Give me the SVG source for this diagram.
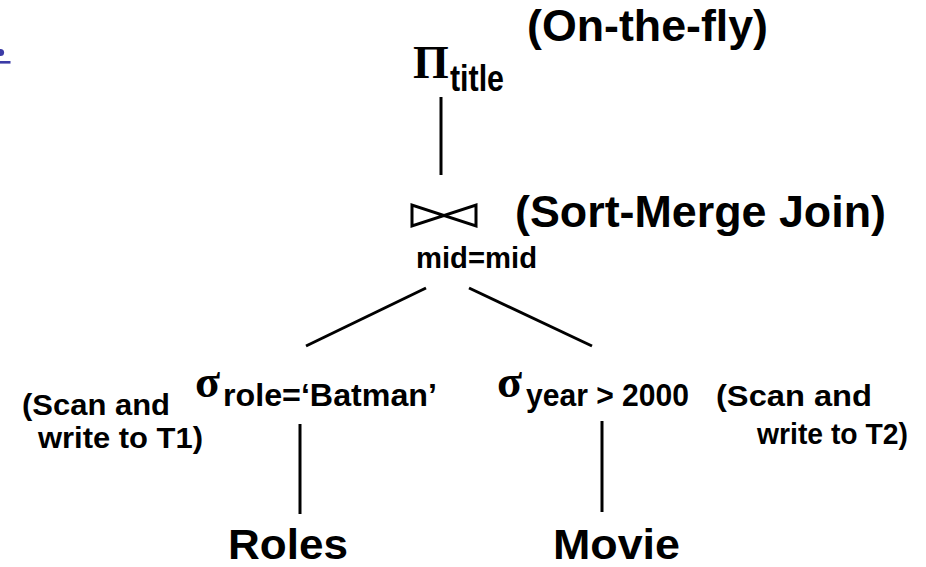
<svg xmlns="http://www.w3.org/2000/svg" width="926" height="567" viewBox="0 0 926 567">
  <style>
    .lbl { font-family: "Liberation Sans", Arial, sans-serif; font-weight: bold; fill: #000; }
    .greek { font-family: "Liberation Serif", "Times New Roman", serif; font-weight: bold; fill: #000; }
    .edge { stroke: #000; stroke-width: 3; fill: none; stroke-linecap: butt; }
  </style>
  <rect width="926" height="567" fill="#fff"/>

  <!-- clipped hyperlink fragment at the left edge -->
  <g id="link-fragment" fill="#3b3ba6">
    <circle cx="0.5" cy="52.5" r="3.6"/>
    <rect x="0" y="61" width="10.5" height="2.6"/>
  </g>

  <!-- connectors -->
  <g id="connectors" class="edge">
    <line x1="441" y1="97" x2="441" y2="175"/>
    <line x1="306" y1="346" x2="426" y2="288"/>
    <line x1="469" y1="288" x2="592" y2="346"/>
    <line x1="300" y1="424" x2="300" y2="514"/>
    <line x1="602" y1="421" x2="602" y2="512"/>
  </g>

  <!-- projection -->
  <g id="project">
    <text class="greek" x="413" y="78" font-size="46">Π</text>
    <text class="lbl" x="450" y="91" font-size="36" textLength="54" lengthAdjust="spacingAndGlyphs">title</text>
    <text class="lbl" x="527" y="41" font-size="44" textLength="241" lengthAdjust="spacingAndGlyphs">(On-the-fly)</text>
  </g>

  <!-- join -->
  <g id="join">
    <path class="edge" d="M412,205 L412,226 L476,205 L476,226 Z" stroke-linejoin="miter"/>
    <text class="lbl" x="416" y="268" font-size="29" textLength="121" lengthAdjust="spacingAndGlyphs">mid=mid</text>
    <text class="lbl" x="515" y="227" font-size="44" textLength="371" lengthAdjust="spacingAndGlyphs">(Sort-Merge Join)</text>
  </g>

  <!-- selection on Roles -->
  <g id="select-role">
    <text class="greek" x="195" y="397" font-size="46">σ</text>
    <text class="lbl" x="223" y="406" font-size="32" textLength="214" lengthAdjust="spacingAndGlyphs">role=‘Batman’</text>
    <text class="lbl" x="22" y="415" font-size="30" textLength="148" lengthAdjust="spacingAndGlyphs">(Scan and</text>
    <text class="lbl" x="38" y="448" font-size="30" textLength="165" lengthAdjust="spacingAndGlyphs">write to T1)</text>
  </g>

  <!-- selection on Movie -->
  <g id="select-year">
    <text class="greek" x="497" y="397" font-size="46">σ</text>
    <text class="lbl" x="526" y="406" font-size="31" textLength="163" lengthAdjust="spacingAndGlyphs">year &gt; 2000</text>
    <text class="lbl" x="716" y="406" font-size="30" textLength="156" lengthAdjust="spacingAndGlyphs">(Scan and</text>
    <text class="lbl" x="757" y="444" font-size="30" textLength="151" lengthAdjust="spacingAndGlyphs">write to T2)</text>
  </g>

  <!-- base relations -->
  <g id="roles">
    <text class="lbl" x="228" y="559" font-size="42" textLength="120" lengthAdjust="spacingAndGlyphs">Roles</text>
  </g>
  <g id="movie">
    <text class="lbl" x="553" y="559" font-size="42" textLength="127" lengthAdjust="spacingAndGlyphs">Movie</text>
  </g>
</svg>
